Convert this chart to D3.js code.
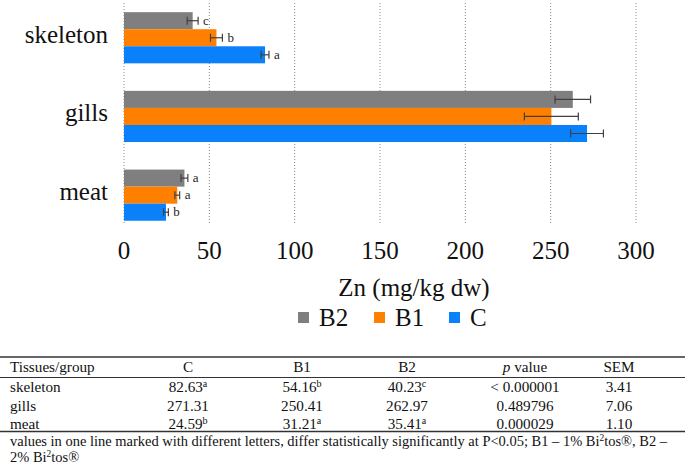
<!DOCTYPE html>
<html>
<head>
<meta charset="utf-8">
<script src="https://cdn.jsdelivr.net/npm/d3@7"></script>
<style>
  html, body { margin: 0; padding: 0; background: #fff; }
  svg { display: block; }
</style>
</head>
<body>
<svg id="chart" width="685" height="464"></svg>
<script>
// ---- data ----
const categories = ["skeleton", "gills", "meat"];
const seriesNames = ["B2", "B1", "C"];
const valuesC  = [82.63, 271.31, 24.59];
const valuesB1 = [54.16, 250.41, 31.21];
const valuesB2 = [40.23, 262.97, 35.41];
const errC  = [2.3, 9.6, 1.4];
const errB1 = [3.5, 15.8, 1.4];
const errB2 = [3.2, 10.4, 2.0];
const lettersC  = ["a", "", "b"];
const lettersB1 = ["b", "", "a"];
const lettersB2 = ["c", "", "a"];
const pValues = ["< 0.000001", "0.489796", "0.000029"];
const semValues = ["3.41", "7.06", "1.10"];
const xTicks = [0, 50, 100, 150, 200, 250, 300];
const tableHeader = ["Tissues/group", "C", "B1", "B2", "p value", "SEM"];

const colors = { B2: "#7f7f7f", B1: "#ff7f00", C: "#0a80fa" };
const seriesData = {
  B2: { v: valuesB2, e: errB2, l: lettersB2 },
  B1: { v: valuesB1, e: errB1, l: lettersB1 },
  C:  { v: valuesC,  e: errC,  l: lettersC }
};

const svg = d3.select("#chart");

// pick a Times-metric serif font that is actually installed
const candidates = ["Liberation Serif", "Tinos", "Times New Roman", "Nimbus Roman", "Nimbus Roman No9 L", "FreeSerif", "Times"];
let fontFamily = "serif";
{
  const probe = svg.append("text").attr("font-size", 100).attr("x", -1000).attr("y", -1000).text("300 mmm");
  probe.attr("font-family", "monospace");
  const mono = probe.node().getComputedTextLength();
  for (const f of candidates) {
    probe.attr("font-family", `'${f}', monospace`);
    const w = probe.node().getComputedTextLength();
    if (Math.abs(w - mono) > 1 && Math.abs(w - 408.4) < 20) { fontFamily = `'${f}', serif`; break; }
  }
  probe.remove();
}
svg.attr("font-family", fontFamily);

svg.append("rect").attr("width", 685).attr("height", 464).attr("fill", "#fff");

const x = d3.scaleLinear().domain([0, 300]).range([124, 636]);
const y = d3.scaleBand().domain(categories).range([-1.6, 234.5])
  .paddingInner(0.35).paddingOuter(0.175);
const ySub = d3.scaleBand().domain(seriesNames).range([0, y.bandwidth()]);

// gridlines
svg.append("g").selectAll("line").data(xTicks).join("line")
  .attr("x1", d => x(d)).attr("x2", d => x(d))
  .attr("y1", 3).attr("y2", 225)
  .attr("stroke", "#8a8a8a").attr("stroke-width", 1)
  .attr("stroke-dasharray", "1,2");

// bars
const rows = [];
categories.forEach((c, i) => {
  seriesNames.forEach(s => {
    rows.push({ cat: c, s, v: seriesData[s].v[i], e: seriesData[s].e[i], l: seriesData[s].l[i] });
  });
});

svg.append("g").selectAll("rect").data(rows).join("rect")
  .attr("x", x(0))
  .attr("y", d => y(d.cat) + ySub(d.s))
  .attr("width", d => x(d.v) - x(0))
  .attr("height", ySub.bandwidth())
  .attr("fill", d => colors[d.s]);

// error bars
const gErr = svg.append("g").attr("stroke", "#404040").attr("stroke-width", 1.2);
rows.forEach(d => {
  const cy = y(d.cat) + ySub(d.s) + ySub.bandwidth() / 2;
  const x1 = x(d.v - d.e), x2 = x(d.v + d.e);
  gErr.append("line").attr("x1", x1).attr("x2", x2).attr("y1", cy).attr("y2", cy);
  gErr.append("line").attr("x1", x1).attr("x2", x1).attr("y1", cy - 4).attr("y2", cy + 4);
  gErr.append("line").attr("x1", x2).attr("x2", x2).attr("y1", cy - 4).attr("y2", cy + 4);
});

// significance letters
svg.append("g").selectAll("text").data(rows.filter(d => d.l)).join("text")
  .attr("x", d => x(d.v + d.e) + 5)
  .attr("y", d => y(d.cat) + ySub(d.s) + ySub.bandwidth() / 2 + 4)
  .attr("font-size", 13).attr("fill", "#222")
  .text(d => d.l);

// category labels
svg.append("g").selectAll("text").data(categories).join("text")
  .attr("x", 108)
  .attr("y", d => y(d) + y.bandwidth() / 2 + 5)
  .attr("text-anchor", "end").attr("font-size", 25).attr("fill", "#111")
  .text(d => d);

// x tick labels
svg.append("g").selectAll("text").data(xTicks).join("text")
  .attr("x", d => x(d)).attr("y", 259)
  .attr("text-anchor", "middle").attr("font-size", 25).attr("fill", "#111")
  .text(d => d);

// axis title
svg.append("text").attr("x", 414).attr("y", 296)
  .attr("text-anchor", "middle").attr("font-size", 25).attr("fill", "#111")
  .text("Zn (mg/kg dw)");

// legend
const legendX = [298, 374, 449];
const legendG = svg.append("g");
seriesNames.forEach((s, i) => {
  legendG.append("rect").attr("x", legendX[i]).attr("y", 312).attr("width", 11).attr("height", 11)
    .attr("fill", colors[s]);
  legendG.append("text").attr("x", legendX[i] + 21).attr("y", 326)
    .attr("font-size", 25).attr("fill", "#111").text(s);
});

// table
const tbl = svg.append("g").attr("font-size", 15.2).attr("fill", "#111");
tbl.append("line").attr("x1", 0).attr("x2", 685).attr("y1", 357).attr("y2", 357)
  .attr("stroke", "#333").attr("stroke-width", 1.5);
tbl.append("line").attr("x1", 0).attr("x2", 685).attr("y1", 377.5).attr("y2", 377.5)
  .attr("stroke", "#333").attr("stroke-width", 1);
tbl.append("line").attr("x1", 0).attr("x2", 685).attr("y1", 431.5).attr("y2", 431.5)
  .attr("stroke", "#333").attr("stroke-width", 1.5);

const colX = [10, 188, 302, 407, 525, 619];
const headY = 372;
tableHeader.forEach((h, i) => {
  const t = tbl.append("text").attr("x", colX[i]).attr("y", headY)
    .attr("text-anchor", i === 0 ? "start" : "middle");
  if (h === "p value") {
    t.append("tspan").attr("font-style", "italic").text("p");
    t.append("tspan").text(" value");
  } else {
    t.text(h);
  }
});

const rowY = [392, 410.5, 429];
function cell(xp, yp, val, sup) {
  const t = tbl.append("text").attr("x", xp).attr("y", yp).attr("text-anchor", "middle");
  t.append("tspan").text(val);
  if (sup) t.append("tspan").attr("font-size", 10).attr("dy", -5).text(sup);
}
categories.forEach((c, i) => {
  tbl.append("text").attr("x", colX[0]).attr("y", rowY[i]).text(c);
  cell(colX[1], rowY[i], valuesC[i].toFixed(2), lettersC[i]);
  cell(colX[2], rowY[i], valuesB1[i].toFixed(2), lettersB1[i]);
  cell(colX[3], rowY[i], valuesB2[i].toFixed(2), lettersB2[i]);
  cell(colX[4], rowY[i], pValues[i], "");
  cell(colX[5], rowY[i], semValues[i], "");
});

// footnote (fitted so the first line ends where the reference's does)
const fnG = svg.append("g").attr("fill", "#111");
const fn1 = fnG.append("text").attr("x", 10).attr("y", 446);
fn1.append("tspan").text("values in one line marked with different letters, differ statistically significantly at P<0.05; B1 \u2013 1% Bi");
fn1.append("tspan").attr("class", "sup").attr("dy", -5).text("2");
fn1.append("tspan").attr("dy", 5).text("tos\u00AE, B2 \u2013");
const fn2 = fnG.append("text").attr("x", 10).attr("y", 462);
fn2.append("tspan").text("2% Bi");
fn2.append("tspan").attr("class", "sup").attr("dy", -5).text("2");
fn2.append("tspan").attr("dy", 5).text("tos\u00AE");
let fnSize = 15;
fnG.attr("font-size", fnSize);
fnG.selectAll(".sup").attr("font-size", fnSize * 0.65);
const w1 = fn1.node().getBBox().width;
if (w1 > 0) {
  fnSize = fnSize * 658 / w1;
  fnG.attr("font-size", fnSize);
  fnG.selectAll(".sup").attr("font-size", fnSize * 0.65);
}
</script>
</body>
</html>
